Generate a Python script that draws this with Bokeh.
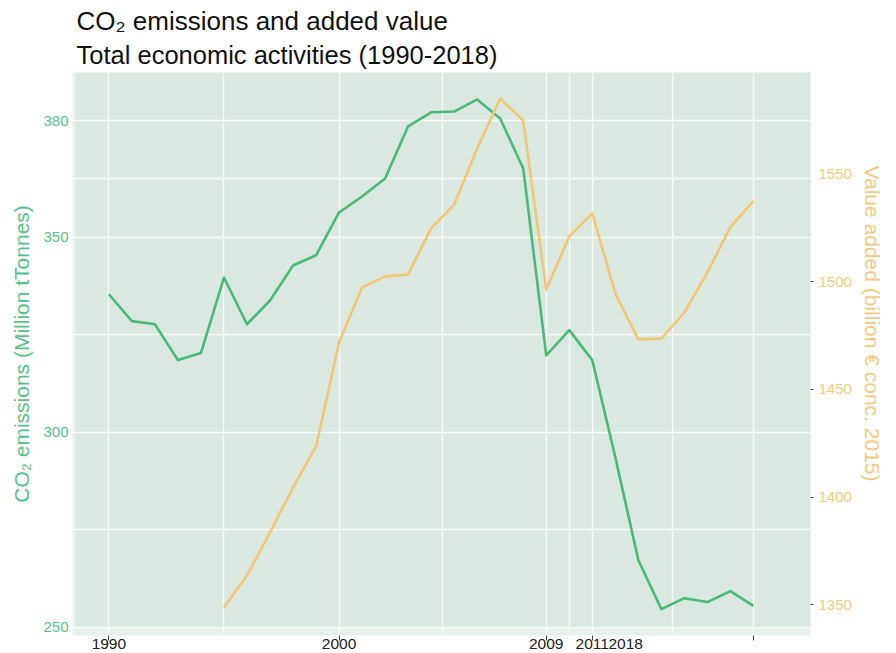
from bokeh.plotting import figure
from bokeh.models import (Range1d, LinearAxis, FixedTicker, Title,
                          BoxAnnotation, ColumnDataSource)
from bokeh.embed import file_html
from bokeh.resources import INLINE

# ---------------- data ----------------
years = list(range(1990, 2019))
co2 = [335.4, 328.5, 327.7, 318.5, 320.3, 339.7, 327.7, 333.8, 342.8, 345.4,
       356.4, 360.5, 365.1, 378.5, 382.1, 382.3, 385.4, 380.5, 367.7, 319.7,
       326.2, 318.5, 293.6, 267.2, 254.6, 257.4, 256.4, 259.2, 255.4]

va_years = list(range(1995, 2019))
value_added = [1348.6, 1363.5, 1383.5, 1404.4, 1423.5, 1471.9, 1497.4, 1502.6,
               1503.5, 1524.9, 1536.0, 1562.1, 1585.3, 1575.1, 1496.5, 1521.2,
               1531.9, 1494.7, 1473.3, 1473.7, 1485.8, 1504.4, 1525.5, 1537.6]

x_ticks = [1990, 2000, 2009, 2011, 2018]
x_minor = [1995, 2004.5, 2010, 2014.5]
# tick labels as printed in the original (the "2018" label sits off its tick)
x_label_pos = [1990, 2000, 2009, 2011, 2012.45]
x_label_text = ["1990", "2000", "2009", "2011", "2018"]

co2_ticks = [250, 300, 350, 380]
co2_minor = [275, 325, 365]
va_ticks = [1350, 1400, 1450, 1500, 1550]
va_tick_marks = [1350, 1400, 1450, 1500]

title_main = "CO\u2082 emissions and added value"
title_sub = "Total economic activities (1990-2018)"
left_label = "CO\u2082 emissions (Million tTonnes)"
right_label = "Value added (billion \u20ac conc. 2015)"

# ---------------- style ----------------
FONT = "Liberation Sans"
GREEN = "#4aba79"
GREEN_TXT = "#55c389"
YELLOW = "#f1c776"
YELLOW_TXT = "#f2cb80"
PANEL = "#dbe8e1"
PANEL_LIGHT = "#e7f0eb"

p = figure(width=892, height=653,
           min_border_left=72, min_border_right=82, min_border_top=72,
           min_border_bottom=18,
           x_range=Range1d(1988.42, 2020.48), y_range=Range1d(247.82, 392.32),
           output_backend="svg", toolbar_location=None,
           title=title_main)
p.background_fill_color = PANEL_LIGHT
p.border_fill_color = "white"
p.outline_line_color = None

p.title.text_font = FONT
p.title.text_font_size = "26px"
p.title.text_font_style = "normal"
p.title.text_color = "#111111"
p.title.offset = 4
p.title.standoff = 0
sub_t = Title(text=title_sub, text_font=FONT, text_font_size="25.5px",
              text_font_style="normal", text_color="#111111", offset=4, standoff=7)
p.add_layout(sub_t, "above")

# inner darker panel
box = BoxAnnotation(left=1988.55, bottom=249.87, fill_color=PANEL, fill_alpha=1,
                    line_color=None, level="image")
p.add_layout(box)

# right range
p.extra_y_ranges = {"va": Range1d(1335.6, 1597.4)}

# lines
src_co2 = ColumnDataSource(dict(x=years, y=co2))
src_va = ColumnDataSource(dict(x=va_years, y=value_added))
p.line("x", "y", source=src_co2, line_color=GREEN, line_width=2.6, line_join="round")
p.line("x", "y", source=src_va, line_color=YELLOW, line_width=2.6, line_join="round",
       y_range_name="va")

# x axis: tick marks only
xa = p.xaxis[0]
xa.ticker = FixedTicker(ticks=x_ticks)
xa.major_label_overrides = {t: "" for t in x_ticks}
xa.axis_line_color = None
xa.major_tick_line_color = "#444444"
xa.major_tick_in = 0
xa.major_tick_out = 5
xa.minor_tick_line_color = None
xa.major_label_standoff = 0
xa.major_label_text_font_size = "1px"

# x axis: the printed labels
xl = LinearAxis(ticker=FixedTicker(ticks=x_label_pos))
xl.major_label_overrides = {t: s for t, s in zip(x_label_pos, x_label_text)}
xl.axis_line_color = None
xl.major_tick_line_color = None
xl.major_tick_in = 0
xl.major_tick_out = 0
xl.minor_tick_line_color = None
xl.minor_tick_out = 0
xl.major_label_standoff = -2
xl.major_label_text_font = FONT
xl.major_label_text_font_size = "15.5px"
xl.major_label_text_color = "#222222"
p.add_layout(xl, "below")

p.xgrid.ticker = FixedTicker(ticks=x_ticks, minor_ticks=x_minor)
p.xgrid.grid_line_color = "white"
p.xgrid.grid_line_alpha = 0.75
p.xgrid.grid_line_width = 1.3
p.xgrid.minor_grid_line_color = "white"
p.xgrid.minor_grid_line_alpha = 0.75
p.xgrid.minor_grid_line_width = 1.3

# left axis
ya = p.yaxis[0]
ya.ticker = FixedTicker(ticks=co2_ticks)
ya.axis_line_color = None
ya.major_tick_line_color = None
ya.major_tick_out = 0
ya.major_tick_in = 0
ya.minor_tick_line_color = None
ya.minor_tick_out = 0
ya.major_label_standoff = 4
ya.major_label_text_font = FONT
ya.major_label_text_font_size = "15px"
ya.major_label_text_color = GREEN_TXT
ya.axis_label = left_label
ya.axis_label_text_font = FONT
ya.axis_label_text_font_size = "21px"
ya.axis_label_text_font_style = "normal"
ya.axis_label_text_color = GREEN_TXT
ya.axis_label_standoff = 7

p.ygrid.ticker = FixedTicker(ticks=co2_ticks, minor_ticks=co2_minor)
p.ygrid.grid_line_color = "white"
p.ygrid.grid_line_alpha = 0.75
p.ygrid.grid_line_width = 1.3
p.ygrid.minor_grid_line_color = "white"
p.ygrid.minor_grid_line_alpha = 0.75
p.ygrid.minor_grid_line_width = 1.3

# right axis: tick marks only
rm = LinearAxis(y_range_name="va", ticker=FixedTicker(ticks=va_tick_marks))
rm.major_label_overrides = {t: "" for t in va_tick_marks}
rm.axis_line_color = None
rm.major_tick_line_color = "#555555"
rm.major_tick_in = 0
rm.major_tick_out = 3
rm.minor_tick_line_color = None
rm.minor_tick_out = 0
rm.major_label_standoff = 0
rm.major_label_text_font_size = "1px"
p.add_layout(rm, "right")

# right axis: labels
ra = LinearAxis(y_range_name="va", ticker=FixedTicker(ticks=va_ticks))
ra.axis_line_color = None
ra.major_tick_line_color = None
ra.major_tick_in = 0
ra.major_tick_out = 0
ra.minor_tick_line_color = None
ra.minor_tick_out = 0
ra.major_label_standoff = 5
ra.major_label_text_font = FONT
ra.major_label_text_font_size = "15px"
ra.major_label_text_color = YELLOW_TXT
p.add_layout(ra, "right")

rt = Title(text=right_label, align="left", offset=93, standoff=12,
           text_font=FONT, text_font_size="21px", text_font_style="normal",
           text_color=YELLOW_TXT)
p.add_layout(rt, "right")

open("out.html", "w").write(file_html(p, INLINE))
